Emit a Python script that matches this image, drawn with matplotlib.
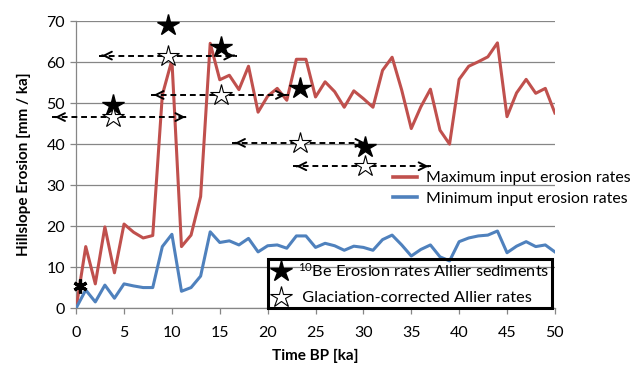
import matplotlib
matplotlib.use("Agg")
import matplotlib.pyplot as plt
from matplotlib.lines import Line2D

plt.rcParams['font.family'] = ['Lato', 'DejaVu Sans']
plt.rcParams['mathtext.fontset'] = 'custom'
plt.rcParams['mathtext.rm'] = 'Lato'
plt.rcParams['mathtext.it'] = 'Lato'

# Modelled input erosion rates, one value per ka
time_ka = list(range(0, 51))
max_rates = [0, 15.0, 5.9, 19.8, 8.6, 20.5, 18.5, 17.1, 17.7, 52.0,
             60.5, 15.0, 17.8, 27.2, 64.6, 55.7, 56.8, 53.3, 59.0, 47.8,
             51.7, 53.6, 50.7, 60.7, 60.7, 51.5, 55.2, 52.8, 49.0, 53.0,
             51.1, 49.0, 58.0, 61.2, 53.2, 43.8, 49.1, 53.4, 43.4, 40.0,
             55.8, 59.0, 60.1, 61.3, 64.7, 46.7, 52.5, 55.8, 52.4, 53.6,
             47.6]
min_rates = [0, 4.4, 1.5, 5.6, 2.4, 5.9, 5.4, 5.0, 5.0, 15.0,
             18.0, 4.1, 5.0, 7.8, 18.6, 16.0, 16.4, 15.4, 17.0, 13.7,
             15.2, 15.4, 14.6, 17.6, 17.6, 14.8, 15.8, 15.2, 14.1, 15.1,
             14.8, 14.1, 16.7, 17.8, 15.4, 12.7, 14.3, 15.4, 12.5, 11.5,
             16.2, 17.1, 17.6, 17.8, 18.8, 13.5, 15.1, 16.2, 15.0, 15.4,
             13.7]

# 10Be erosion rates of Allier sediments
be_age = [3.8, 9.6, 15.1, 23.4, 30.2]
be_rate = [49.5, 69.0, 63.7, 53.8, 39.3]
glac_rate = [46.6, 61.6, 52.0, 40.3, 34.6]
age_lo = [-2.5, 2.4, 7.8, 16.3, 22.7]
age_hi = [11.7, 16.8, 22.2, 30.5, 37.1]

# modern value
modern_age = [0.4]
modern_rate = [5.5]

red = '#C0504D'
blue = '#4F81BD'
grey = '#868686'

fig = plt.figure(figsize=(6.4, 3.65), dpi=100)
ax = fig.add_axes([0.119, 0.156, 0.748, 0.786])

ax.plot(time_ka, max_rates, color=red, lw=2.2, label='Maximum input erosion rates', zorder=3)
ax.plot(time_ka, min_rates, color=blue, lw=2.2, label='Minimum input erosion rates', zorder=3)

# age uncertainty arrows
for lo, hi, y in zip(age_lo, age_hi, glac_rate):
    ax.plot([lo, hi], [y, y], ls='--', color='black', lw=1.4, dashes=(3, 2),
            clip_on=False, zorder=4)
    ax.annotate('', xy=(hi, y), xytext=(hi - 0.6, y),
                arrowprops=dict(arrowstyle='->', color='black', lw=1.4, mutation_scale=14),
                annotation_clip=False, zorder=4)
    ax.annotate('', xy=(lo, y), xytext=(lo + 0.6, y),
                arrowprops=dict(arrowstyle='->', color='black', lw=1.4, mutation_scale=14),
                annotation_clip=False, zorder=4)

stars_full, = ax.plot(be_age, be_rate, ls='none', marker='*', ms=16, color='black',
                      zorder=5, clip_on=False)
stars_open, = ax.plot(be_age, glac_rate, ls='none', marker='*', ms=16, mfc='white',
                      mec='black', mew=0.8, zorder=5)
ax.plot(modern_age, modern_rate, ls='none', marker=(6, 2, 0), ms=10, mew=2.3,
        color='black', zorder=5, clip_on=False)

ax.set_xlim(0, 50)
ax.set_ylim(0, 70)
ax.set_xticks(range(0, 51, 5))
ax.set_yticks(range(0, 71, 10))
ax.yaxis.grid(True, color=grey, lw=0.9)
ax.set_axisbelow(True)
for s in ['top', 'right']:
    ax.spines[s].set_visible(False)
for s in ['left', 'bottom']:
    ax.spines[s].set_color(grey)
    ax.spines[s].set_linewidth(0.9)
ax.tick_params(axis='both', direction='out', length=4, width=0.9, color=grey,
               labelsize=11.5, pad=4)
ax.tick_params(axis='x', pad=9)

ax.set_xlabel('Time BP [ka]', fontsize=11, fontweight='bold', labelpad=6)
ax.set_ylabel('Hillslope Erosion [mm / ka]', fontsize=11, fontweight='bold', labelpad=11)

h_red = Line2D([], [], color=red, lw=2.6)
h_blue = Line2D([], [], color=blue, lw=2.6)
fig.legend([h_red, h_blue], ['Maximum input erosion rates', 'Minimum input erosion rates'],
           loc='upper left', bbox_to_anchor=(0.601, 0.553), frameon=False,
           fontsize=11.4, handlelength=1.55, handletextpad=0.55, borderpad=0,
           labelspacing=0.4)

leg2 = fig.legend([stars_full, stars_open],
                  ['$^{10}$Be Erosion rates Allier sediments', ' Glaciation-corrected Allier rates'],
                  loc='upper left', bbox_to_anchor=(0.418, 0.29), fontsize=11.8,
                  fancybox=False, edgecolor='black', facecolor='none', framealpha=1,
                  borderpad=0.15, handletextpad=0.3, labelspacing=0.7, handlelength=1.4,
                  borderaxespad=0)
leg2.get_frame().set_linewidth(2.2)

fig.savefig('out.png', dpi=100)
